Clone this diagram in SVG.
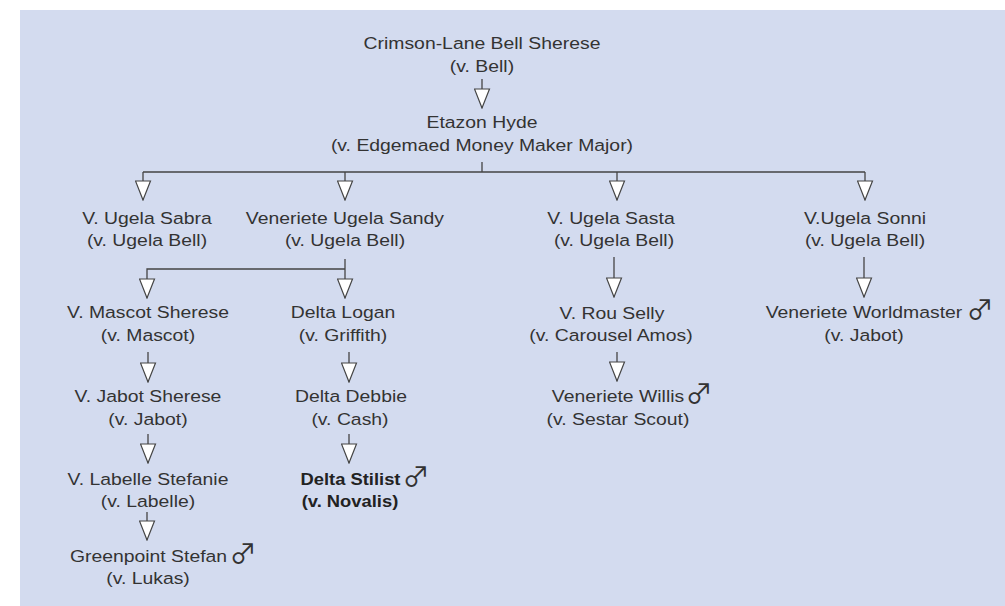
<svg xmlns="http://www.w3.org/2000/svg" width="1005" height="606" viewBox="0 0 1005 606">
<style>
text{font-family:"Liberation Sans",Arial,sans-serif;font-size:17px;fill:#333;text-anchor:middle;transform-box:fill-box;transform-origin:50% 50%;transform:scaleX(1.14)}
.b{font-weight:bold;fill:#222;transform:scaleX(1.08)}
.m{font-family:"Noto Sans CJK JP","DejaVu Sans",sans-serif;font-size:27px;font-weight:normal;transform:none}
.c{fill:none;stroke:#444;stroke-width:1.3}
.a{marker-end:url(#tri)}
</style>
<defs>
<marker id="tri" viewBox="-1 -1 21 17" markerWidth="21" markerHeight="17" refX="19" refY="7.5" orient="auto" markerUnits="userSpaceOnUse">
<path d="M0,0 L19,7.5 L0,15 Z" fill="#fff" stroke="#444" stroke-width="1.2"/>
</marker>
</defs>
<rect x="20" y="10" width="985" height="596" fill="#d3dbef"/>
<g id="connectors">
<path class="c a" d="M482,79 V108"/>
<path class="c" d="M482,162 V172 M143,172 H865"/>
<path class="c a" d="M143,172 V200"/>
<path class="c a" d="M345,172 V200"/>
<path class="c a" d="M617,172 V200"/>
<path class="c a" d="M865,172 V200"/>
<path class="c a" d="M345,259 V298"/>
<path class="c a" d="M345,269 H147 V298"/>
<path class="c a" d="M614,257 V297"/>
<path class="c a" d="M864,257 V297"/>
<path class="c a" d="M148,352 V382"/>
<path class="c a" d="M349,352 V382"/>
<path class="c a" d="M617,352 V381"/>
<path class="c a" d="M148,434 V463"/>
<path class="c a" d="M349,434 V463"/>
<path class="c a" d="M147,512 V540"/>
</g>
<g id="crimson"><text x="482" y="49">Crimson-Lane Bell Sherese</text><text x="482" y="72">(v. Bell)</text></g>
<g id="etazon"><text x="482" y="128">Etazon Hyde</text><text x="482" y="151">(v. Edgemaed Money Maker Major)</text></g>
<g id="sabra"><text x="147" y="224">V. Ugela Sabra</text><text x="147" y="246">(v. Ugela Bell)</text></g>
<g id="sandy"><text x="345" y="224">Veneriete Ugela Sandy</text><text x="345" y="246">(v. Ugela Bell)</text></g>
<g id="sasta"><text x="611" y="224">V. Ugela Sasta</text><text x="614" y="246">(v. Ugela Bell)</text></g>
<g id="sonni"><text x="865" y="224">V.Ugela Sonni</text><text x="865" y="246">(v. Ugela Bell)</text></g>
<g id="mascot"><text x="148" y="318">V. Mascot Sherese</text><text x="148" y="341">(v. Mascot)</text></g>
<g id="logan"><text x="343" y="318">Delta Logan</text><text x="343" y="341">(v. Griffith)</text></g>
<g id="rouselly"><text x="612" y="319">V. Rou Selly</text><text x="611" y="341">(v. Carousel Amos)</text></g>
<g id="worldmaster"><text x="864" y="318">Veneriete Worldmaster</text><text class="m" x="980" y="320">♂</text><text x="864" y="341">(v. Jabot)</text></g>
<g id="jabot"><text x="148" y="402">V. Jabot Sherese</text><text x="148" y="425">(v. Jabot)</text></g>
<g id="debbie"><text x="351" y="402">Delta Debbie</text><text x="350" y="425">(v. Cash)</text></g>
<g id="willis"><text x="618" y="402">Veneriete Willis</text><text class="m" x="699" y="404">♂</text><text x="618" y="425">(v. Sestar Scout)</text></g>
<g id="labelle"><text x="148" y="485">V. Labelle Stefanie</text><text x="148" y="507">(v. Labelle)</text></g>
<g id="stilist"><text class="b" x="350.5" y="485">Delta Stilist</text><text class="m" x="416" y="487">♂</text><text class="b" x="350" y="507">(v. Novalis)</text></g>
<g id="greenpoint"><text x="148.5" y="562">Greenpoint Stefan</text><text class="m" x="243" y="564">♂</text><text x="148" y="584">(v. Lukas)</text></g>
</svg>
